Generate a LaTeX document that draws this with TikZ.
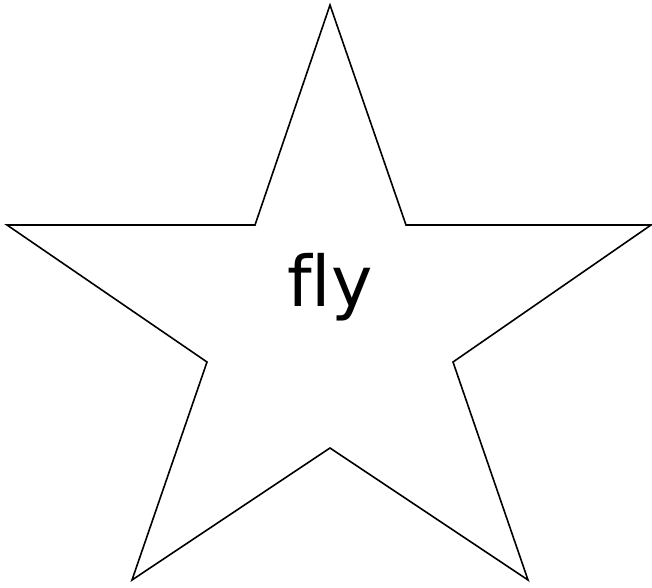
\documentclass[tikz,border=0pt]{standalone}
\usepackage{fontspec}
\setmainfont[Ligatures=CommonOff]{DejaVu Sans}
\begin{document}
\begin{tikzpicture}[x=1pt,y=-1pt,
  starline/.style={draw=black,line width=1.6pt,line join=miter},
  label/.style={font=\fontsize{70}{74}\selectfont,text=black,inner sep=0pt,anchor=base}]
\useasboundingbox (0,0) rectangle (652,587);
\draw[starline] (330,5) -- (406,225) -- (651,225) -- (453,362) -- (528,580)
  -- (330,448) -- (132,580) -- (207,362) -- (7,225) -- (255,225) -- cycle;
\node[label] (fly) at (330,306) {fly};
\end{tikzpicture}
\end{document}
